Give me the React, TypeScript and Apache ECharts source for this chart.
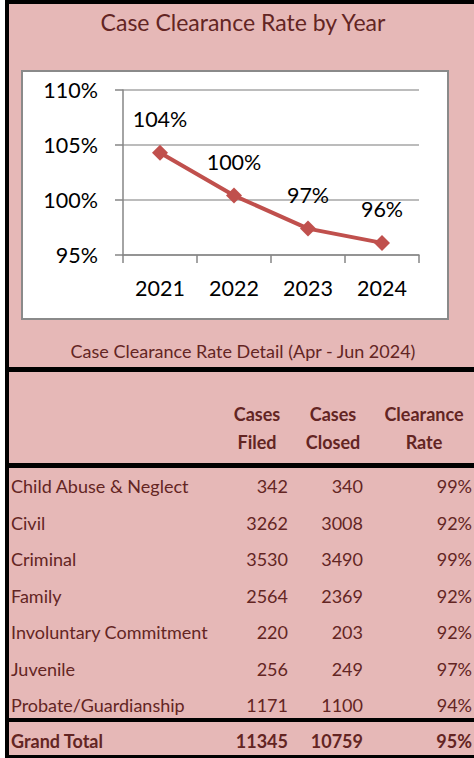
import React, { useEffect, useRef } from "react";
import * as echarts from "echarts";

const years = ["2021", "2022", "2023", "2024"];
const yearRates = [104.3, 100.4, 97.4, 96.1];

const caseTypes = [
  "Child Abuse & Neglect",
  "Civil",
  "Criminal",
  "Family",
  "Involuntary Commitment",
  "Juvenile",
  "Probate/Guardianship",
];
const casesFiled = [342, 3262, 3530, 2564, 220, 256, 1171];
const casesClosed = [340, 3008, 3490, 2369, 203, 249, 1100];
const clearanceRates = [99, 92, 99, 92, 92, 97, 94];
const grandTotal = { label: "Grand Total", filed: 11345, closed: 10759, rate: 95 };

const chartTitle = "Case Clearance Rate by Year";
const detailTitle = "Case Clearance Rate Detail (Apr - Jun 2024)";
const headerTop = ["Cases", "Cases", "Clearance"];
const headerBottom = ["Filed", "Closed", "Rate"];

const FONT = "Lato, 'Open Sans', sans-serif";
const PINK = "#E6B8B7";
const DARK = "#632523";

export default function App() {
  const ref = useRef<HTMLDivElement>(null);

  useEffect(() => {
    if (!ref.current) return;
    const chart = echarts.init(ref.current, null, { renderer: "svg" });

    const txt = (
      text: string,
      x: number,
      y: number,
      size: number,
      align: string,
      bold = false,
      fill = DARK
    ) => ({
      type: "text",
      z: 5,
      style: {
        text,
        x,
        y,
        fill,
        fontSize: size,
        fontFamily: FONT,
        fontWeight: bold ? "bold" : "normal",
        align,
        verticalAlign: "middle",
      },
    });

    const rowY0 = 486;
    const rowStep = 36.5;
    const colFiled = 288;
    const colClosed = 363;
    const colRate = 472;
    const TS = 18;

    const graphics: any[] = [
      { type: "rect", z: -20, shape: { x: 5, y: 0, width: 469, height: 758 }, style: { fill: "#000" } },
      { type: "rect", z: -19, shape: { x: 9, y: 4, width: 465, height: 363 }, style: { fill: PINK } },
      { type: "rect", z: -19, shape: { x: 9, y: 372, width: 465, height: 91 }, style: { fill: PINK } },
      { type: "rect", z: -19, shape: { x: 9, y: 468, width: 465, height: 250 }, style: { fill: PINK } },
      { type: "rect", z: -19, shape: { x: 9, y: 722, width: 465, height: 33 }, style: { fill: PINK } },
      {
        type: "rect",
        z: -18,
        shape: { x: 22, y: 71, width: 426, height: 248 },
        style: { fill: "#fff", stroke: "#8a8a8a", lineWidth: 2 },
      },
      txt(chartTitle, 243, 22, 23, "center"),
      txt(detailTitle, 243, 351, 18, "center"),
    ];

    const hx = [257, 333, 424];
    headerTop.forEach((h, i) => graphics.push(txt(h, hx[i], 414, TS, "center", true)));
    headerBottom.forEach((h, i) => graphics.push(txt(h, hx[i], 442, TS, "center", true)));

    caseTypes.forEach((c, i) => {
      const y = rowY0 + i * rowStep;
      graphics.push(txt(c, 11, y, TS, "left"));
      graphics.push(txt(String(casesFiled[i]), colFiled, y, TS, "right"));
      graphics.push(txt(String(casesClosed[i]), colClosed, y, TS, "right"));
      graphics.push(txt(clearanceRates[i] + "%", colRate, y, TS, "right"));
    });
    const gy = 741;
    graphics.push(txt(grandTotal.label, 11, gy, TS, "left", true));
    graphics.push(txt(String(grandTotal.filed), colFiled, gy, TS, "right", true));
    graphics.push(txt(String(grandTotal.closed), colClosed, gy, TS, "right", true));
    graphics.push(txt(grandTotal.rate + "%", colRate, gy, TS, "right", true));

    chart.setOption({
      animation: false,
      graphic: { elements: graphics },
      grid: { left: 123, right: 55, top: 90, bottom: 503, containLabel: false },
      xAxis: {
        type: "category",
        data: years,
        boundaryGap: true,
        axisLine: { lineStyle: { color: "#868686", width: 1.5 } },
        axisTick: { show: true, length: 8, lineStyle: { color: "#868686", width: 1.5 } },
        axisLabel: { color: "#000", fontSize: 21.5, fontFamily: FONT, margin: 22 },
        splitLine: { show: false },
      },
      yAxis: {
        type: "value",
        min: 95,
        max: 110,
        interval: 5,
        axisLine: { show: true, lineStyle: { color: "#868686", width: 1.5 } },
        axisTick: { show: true, length: 8, lineStyle: { color: "#868686", width: 1.5 } },
        axisLabel: {
          color: "#000",
          fontSize: 21.5,
          fontFamily: FONT,
          margin: 25,
          formatter: (v: number) => v + "%",
        },
        splitLine: { show: true, lineStyle: { color: "#a6a6a6", width: 1.5 } },
      },
      series: [
        {
          type: "line",
          data: yearRates,
          symbol: "diamond",
          symbolSize: 16,
          itemStyle: { color: "#C0504D" },
          lineStyle: { color: "#C0504D", width: 4 },
          label: {
            show: true,
            position: "top",
            distance: 15,
            color: "#000",
            fontSize: 21.5,
            fontFamily: FONT,
            formatter: (p: any) => Math.round(p.value) + "%",
          },
        },
      ],
    });

    return () => chart.dispose();
  }, []);

  return (
    <div
      ref={ref}
      style={{ position: "fixed", left: 0, top: 0, width: 474, height: 758, background: "#fff" }}
    />
  );
}
